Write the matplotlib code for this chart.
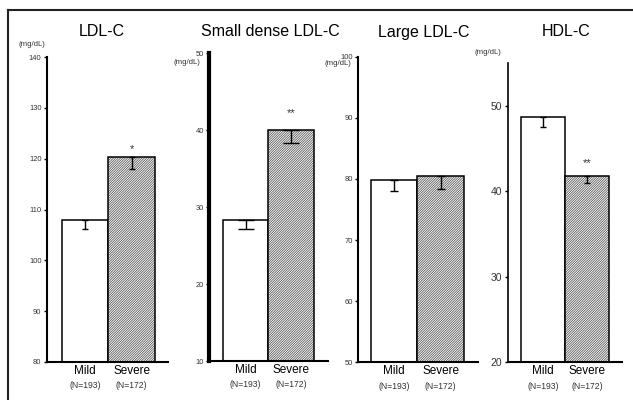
import matplotlib
matplotlib.use("Agg")
import matplotlib.pyplot as plt
from matplotlib.lines import Line2D

plt.rcParams['font.family'] = ['Liberation Sans', 'DejaVu Sans']
plt.rcParams['hatch.linewidth'] = 0.55

# ---------------- data ----------------
categories = ['Mild', 'Severe']
n_labels = ['(N=193)', '(N=172)']
titles = ['LDL-C', 'Small dense LDL-C', 'Large LDL-C', 'HDL-C']
ldl_c = [108.0, 120.3]
ldl_c_err = [1.8, 2.4]
sd_ldl = [28.3, 40.0]
sd_ldl_err = [1.2, 1.6]
large_ldl = [79.8, 80.4]
large_ldl_err = [1.7, 2.0]
hdl_c = [48.7, 41.8]
hdl_c_err = [1.1, 0.8]
ylims = [(80, 140), (10, 50), (50, 100), (20, 55)]
yticks = [[80, 90, 100, 110, 120, 130, 140],
          [10, 20, 30, 40, 50],
          [50, 60, 70, 80, 90, 100],
          [20, 30, 40, 50]]
stars = [['', '*'], ['', '**'], ['', ''], ['', '**']]
unit = '(mg/dL)'

values = [ldl_c, sd_ldl, large_ldl, hdl_c]
errors = [ldl_c_err, sd_ldl_err, large_ldl_err, hdl_c_err]

# ---------------- layout (pixels) ----------------
W, H = 633, 400
layout = [
    dict(box=(47, 168, 57, 362), xlim=(-0.823, 1.78), tx=102, unit=(31.7, 44), lw=1.5,
         tfs=5.4, ufs=5.6, cap=2.2, star_off=2),
    dict(box=(209.3, 328, 53.3, 361), xlim=(-0.794, 1.807), tx=270, unit=(186.7, 63), lw=3.0,
         tfs=5.4, ufs=5.6, cap=5.5, star_off=9),
    dict(box=(358.3, 478, 56.7, 362.3), xlim=(-0.766, 1.80), tx=424, unit=(337.5, 63.3), lw=1.5,
         tfs=5.4, ufs=5.6, cap=3.0, star_off=6),
    dict(box=(507.7, 621.7, 63.3, 362.3), xlim=(-0.794, 1.788), tx=566, unit=(488, 53), lw=1.2,
         tfs=7.5, ufs=5.6, cap=2.0, star_off=6),
]

fig = plt.figure(figsize=(W / 100, H / 100), dpi=100)

def fx(x):
    return x / W

def fy(y):
    return 1 - y / H

# outer frame (left and top)
fig.add_artist(Line2D([fx(8), fx(8)], [fy(10), 0], color='#222222', lw=1.5))
fig.add_artist(Line2D([fx(8), 1], [fy(10), fy(10)], color='#222222', lw=1.5))

x = [0, 1]
for i in range(4):
    L = layout[i]
    l, r, t, b = L['box']
    ax = fig.add_axes([fx(l), fy(b), (r - l) / W, (b - t) / H])
    vals = values[i]
    errs = errors[i]
    ax.bar(x[0], vals[0], width=1.0, color='white', edgecolor='black',
           linewidth=1.1, zorder=2)
    ax.bar(x[1], vals[1], width=1.0, color='white', edgecolor='#505050',
           hatch='/' * 14, linewidth=0, zorder=2)
    ax.bar(x[1], vals[1], width=1.0, color='none', edgecolor='black',
           linewidth=1.1, zorder=3)
    ax.errorbar(x, vals, yerr=[errs, [0, 0]], fmt='none', ecolor='black',
                elinewidth=1.0, capsize=L['cap'], capthick=1.0, zorder=4)
    for j in range(2):
        if stars[i][j]:
            ax.annotate(stars[i][j], (x[j], vals[j]), xytext=(0, L['star_off']),
                        textcoords='offset points', ha='center', va='bottom',
                        fontsize=8, color='#333333')
    ax.set_xlim(*L['xlim'])
    ax.set_ylim(*ylims[i])
    ax.set_yticks(yticks[i])
    ax.set_yticklabels([str(v) for v in yticks[i]])
    ax.tick_params(axis='y', length=2.5, width=1.0, labelsize=L['tfs'], pad=1.5,
                   labelcolor='#333333')
    ax.tick_params(axis='x', length=0, labelsize=8.5, pad=2)
    ax.set_xticks(x)
    ax.set_xticklabels(categories)
    for s in ['top', 'right']:
        ax.spines[s].set_visible(False)
    ax.spines['left'].set_linewidth(L['lw'])
    ax.spines['bottom'].set_linewidth(1.5)
    ax.patch.set_visible(False)
    for j in range(2):
        ax.annotate(n_labels[j], (x[j], 0), xycoords=('data', 'axes fraction'),
                    xytext=(0, -14), textcoords='offset points', ha='center',
                    va='top', fontsize=6.2, color='#333333')
    fig.text(fx(L['tx']), fy(32), titles[i], ha='center', va='center', fontsize=11.5)
    fig.text(fx(L['unit'][0]), fy(L['unit'][1]), unit, ha='center', va='center',
             fontsize=L['ufs'], color='#333333')

fig.savefig('out.png', dpi=100)
